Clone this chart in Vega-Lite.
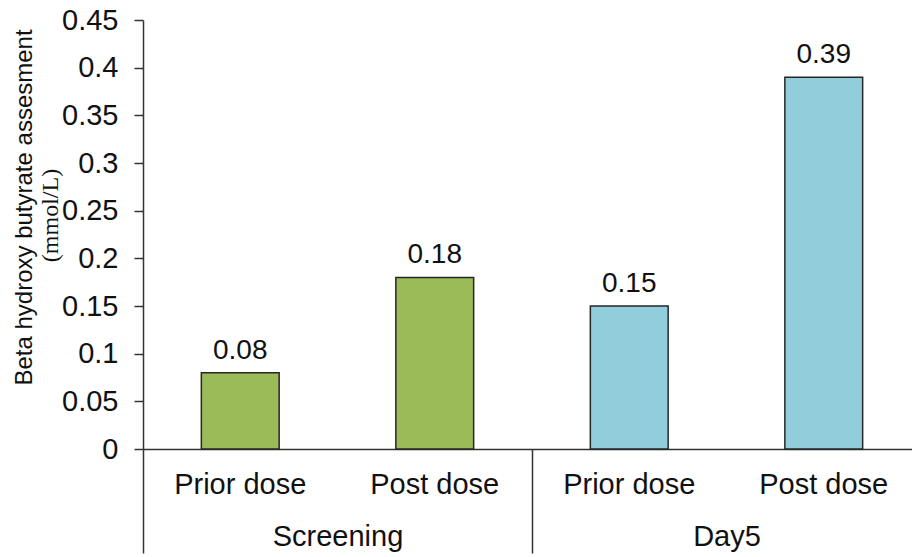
{
  "$schema": "https://vega.github.io/schema/vega-lite/v6.json",
  "width": 769,
  "height": 429,
  "autosize": "none",
  "padding": {"left": 143, "top": 20, "right": 0, "bottom": 108},
  "background": "white",
  "config": {"view": {"stroke": null}, "font": "Liberation Sans"},
  "data": {
    "values": [
      {"group": "Screening", "dose": "Prior dose", "cat": "Screening|Prior dose", "value": 0.08},
      {"group": "Screening", "dose": "Post dose", "cat": "Screening|Post dose", "value": 0.18},
      {"group": "Day5", "dose": "Prior dose", "cat": "Day5|Prior dose", "value": 0.15},
      {"group": "Day5", "dose": "Post dose", "cat": "Day5|Post dose", "value": 0.39}
    ]
  },
  "layer": [
    {
      "encoding": {
        "x": {
          "field": "cat", "type": "nominal", "sort": null,
          "scale": {"range": [0, 778], "paddingInner": 0.6, "paddingOuter": 0.3},
          "axis": {
            "labelExpr": "split(datum.label, '|')[1]",
            "ticks": false, "tickSize": 0, "labelPadding": 21,
            "labelFontSize": 29, "labelAngle": 0, "labelColor": "#111",
            "title": null, "domainColor": "#333", "domainWidth": 1.5
          }
        },
        "y": {
          "field": "value", "type": "quantitative",
          "scale": {"domain": [0, 0.45], "nice": false},
          "axis": {
            "values": [0, 0.05, 0.1, 0.15, 0.2, 0.25, 0.3, 0.35, 0.4, 0.45],
            "format": "~g", "grid": false, "tickSize": 9, "labelPadding": 16,
            "labelFontSize": 29, "labelColor": "#111",
            "domainColor": "#333", "tickColor": "#333", "domainWidth": 1.5, "tickWidth": 1.5,
            "title": "Beta hydroxy butyrate assesment", "titleFontSize": 24,
            "titleFontWeight": "normal", "titleColor": "#111",
            "titleX": -119, "titleY": 187, "titleAngle": -90,
            "titleAlign": "center", "titleBaseline": "middle"
          }
        }
      },
      "layer": [
        {
          "mark": {"type": "bar", "stroke": "#262626", "strokeWidth": 1.5},
          "encoding": {
            "color": {
              "field": "group", "type": "nominal",
              "scale": {"domain": ["Screening", "Day5"], "range": ["#9BBB59", "#92CDDC"]},
              "legend": null
            }
          }
        },
        {
          "mark": {"type": "text", "dy": -14, "baseline": "alphabetic", "fontSize": 28, "color": "#111"},
          "encoding": {
            "text": {"field": "value", "type": "quantitative", "format": ".2f"}
          }
        }
      ]
    },
    {
      "mark": {"type": "point", "opacity": 0},
      "encoding": {
        "x": {
          "field": "group", "type": "nominal", "sort": ["Screening", "Day5"],
          "scale": {"range": [0, 778], "paddingInner": 0, "paddingOuter": 0},
          "axis": {
            "orient": "bottom", "tickBand": "extent", "ticks": true, "tickSize": 104,
            "tickColor": "#333", "tickWidth": 1.5, "domain": false,
            "labelPadding": -31, "labelFontSize": 29, "labelAngle": 0,
            "labelColor": "#111", "title": null
          }
        },
        "y": {
          "field": "value", "type": "quantitative",
          "axis": {
            "orient": "left", "labels": false, "ticks": false, "domain": false, "grid": false,
            "title": "(mmol/L)", "titleFont": "Liberation Serif", "titleFontSize": 24,
            "titleFontWeight": "normal", "titleColor": "#111",
            "titleX": -93, "titleY": 195, "titleAngle": -90,
            "titleAlign": "center", "titleBaseline": "middle"
          }
        }
      }
    }
  ],
  "resolve": {
    "scale": {"x": "independent"},
    "axis": {"x": "independent", "y": "independent"}
  }
}
